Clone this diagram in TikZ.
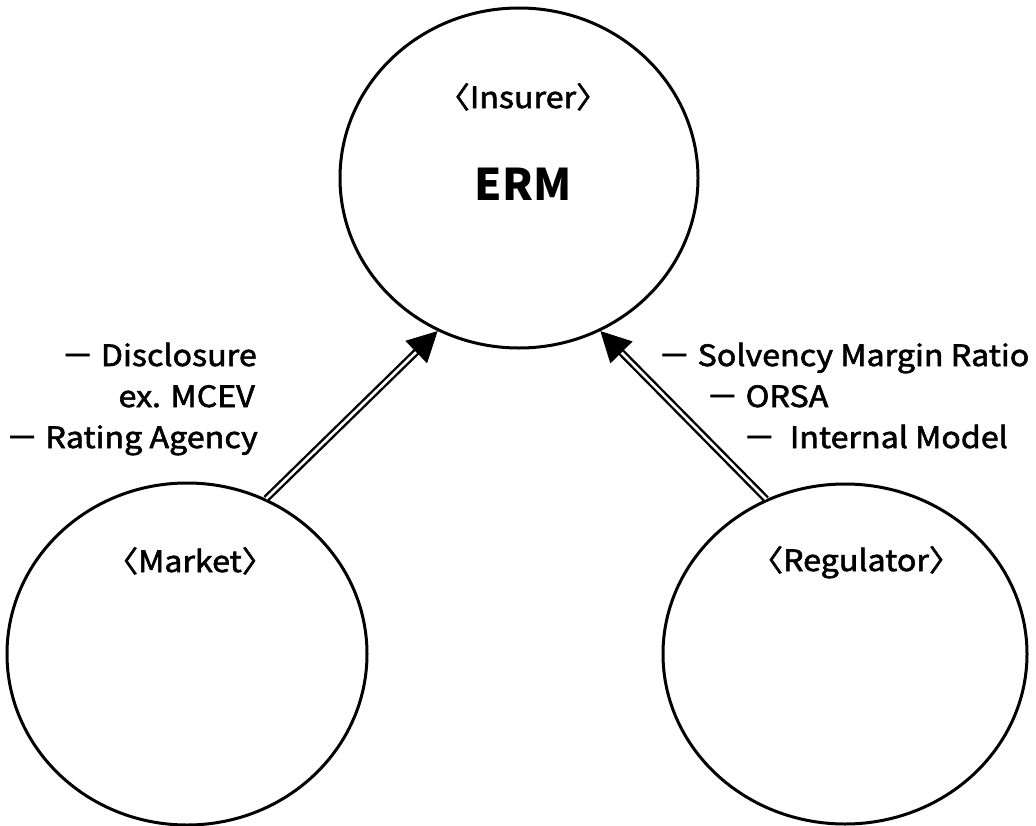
\documentclass[tikz,border=0pt]{standalone}
\usepackage{fontspec}
\setmainfont{Noto Sans CJK JP}
\newfontfamily\lblfont{Noto Sans CJK JP}[FakeStretch=1.1, FakeBold=2]
\usetikzlibrary{shapes.geometric,arrows.meta,calc}

\tikzset{
  party/.style={ellipse, draw, line width=3bp, inner sep=0pt},
  lbl/.style={inner sep=0pt, font=\lblfont\fontsize{29.3bp}{35bp}\selectfont},
  title/.style={inner sep=0pt, font=\fontsize{43.6bp}{50bp}\selectfont\bfseries},
  shaft/.style={draw, double=white, double distance=2.6bp, line width=2.4bp},
  head/.style={-{Triangle[length=30bp,width=31bp]}, line width=1bp},
}

\begin{document}
\begin{tikzpicture}[x=1bp, y=-1bp]
  \useasboundingbox (0,0) rectangle (1036,826);

  % the three parties
  \node[party, minimum width=358bp, minimum height=340bp] (insurer)   at (519,178) {};
  \node[party, minimum width=360bp, minimum height=342bp] (market)    at (187,654) {};
  \node[party, minimum width=364bp, minimum height=340bp] (regulator) at (845,654) {};

  % labels inside the circles
  \node[lbl, anchor=base] (insurerlbl)   at (523,108) {〈Insurer〉};
  \node[title, anchor=base] (erm)        at (523,200) {ERM};
  \node[lbl, anchor=base] (marketlbl)    at (190,572) {〈Market〉};
  \node[lbl, anchor=base] (regulatorlbl) at (856,571) {〈Regulator〉};

  % market-side influences
  \node[lbl, anchor=base east] (disc)   at (257,366) {－ Disclosure};
  \node[lbl, anchor=base east] (mcev)   at (255,407) {ex. MCEV};
  \node[lbl, anchor=base east] (rating) at (258,448) {－ Rating Agency};

  % regulator-side influences
  \node[lbl, anchor=base west] (smr)      at (658,366) {－ Solvency Margin Ratio};
  \node[lbl, anchor=base west] (orsa)     at (706,407) {－ ORSA};
  \node[lbl, anchor=base west] (internal) at (743,448) {－\ \ Internal Model};

  % connectors: double shafts with solid heads
  \coordinate (mtail) at (market.63);
  \coordinate (mtip)  at (insurer.242);
  \coordinate (rtail) at (regulator.117);
  \coordinate (rtip)  at (insurer.298);

  \path[shaft, shorten >=26bp] (mtail) -- (mtip);
  \draw[head] ($(mtip)!30bp!(mtail)$) -- (mtip);
  \path[shaft, shorten >=26bp] (rtail) -- (rtip);
  \draw[head] ($(rtip)!30bp!(rtail)$) -- (rtip);
\end{tikzpicture}
\end{document}
